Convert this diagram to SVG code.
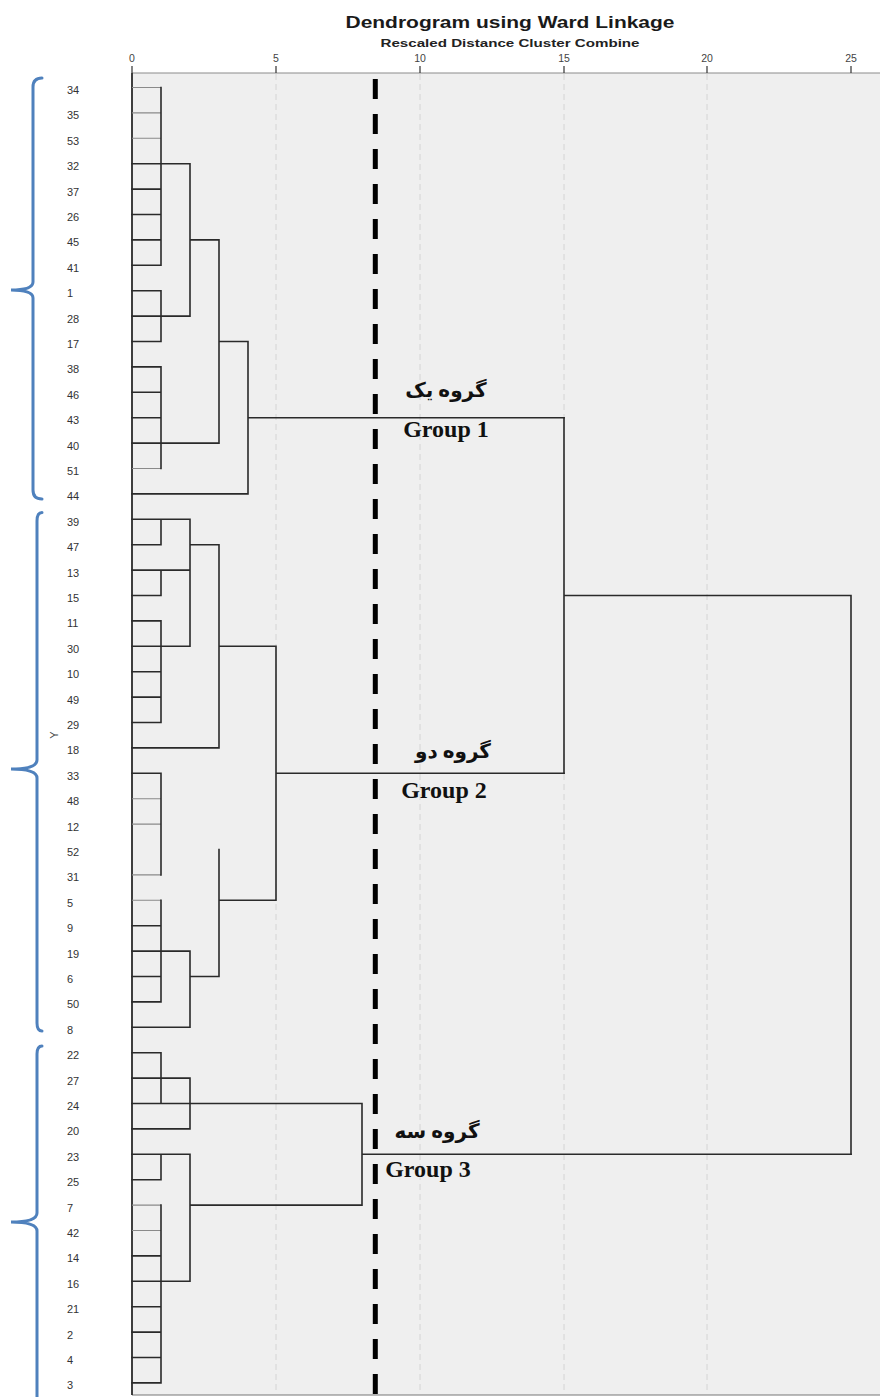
<svg xmlns="http://www.w3.org/2000/svg" width="880" height="1397" viewBox="0 0 880 1397">
<style>
.lbl{font-family:"Liberation Sans",Arial,sans-serif;font-size:11px;fill:#333}
.tick{font-family:"Liberation Sans",Arial,sans-serif;font-size:10.5px;fill:#444;text-anchor:middle}
.ln{stroke:#2a2a2a;stroke-width:1.6;fill:none;stroke-linecap:square}
.lt{stroke:#8a8a8a;stroke-width:1.1;fill:none}
.grid{stroke:#d4d4d4;stroke-width:1;stroke-dasharray:6 4}
.brace{stroke:#4f81bd;stroke-width:3;fill:none;stroke-linecap:round}
.gen{font-family:"Liberation Serif","Times New Roman",serif;font-weight:bold;font-size:24px;fill:#111;text-anchor:middle}
.gfa{font-family:"Liberation Serif","DejaVu Sans",serif;font-weight:bold;font-size:20px;fill:#111;text-anchor:middle}
</style>
<rect x="0" y="0" width="880" height="1397" fill="#ffffff"/>
<g id="plot-area">
<rect x="132" y="73" width="748" height="1322" fill="#efefef"/>
<line x1="132" y1="73" x2="880" y2="73" stroke="#8c8c8c" stroke-width="1.2"/>
<line x1="132" y1="1395" x2="880" y2="1395" stroke="#777" stroke-width="1.2"/>
<line class="grid" x1="276" y1="74" x2="276" y2="1394"/>
<line class="grid" x1="420" y1="74" x2="420" y2="1394"/>
<line class="grid" x1="564" y1="74" x2="564" y2="1394"/>
<line class="grid" x1="707" y1="74" x2="707" y2="1394"/>
</g>
<g id="title">
<text x="510" y="28" font-family="Liberation Sans,Arial,sans-serif" font-weight="bold" font-size="17" fill="#1a1a1a" text-anchor="middle" textLength="329" lengthAdjust="spacingAndGlyphs">Dendrogram using Ward Linkage</text>
<text x="510" y="47" font-family="Liberation Sans,Arial,sans-serif" font-weight="bold" font-size="10.5" fill="#222" text-anchor="middle" textLength="259" lengthAdjust="spacingAndGlyphs">Rescaled Distance Cluster Combine</text>
</g>
<g id="axis">
<text class="tick" x="132" y="62">0</text>
<text class="tick" x="276" y="62">5</text>
<text class="tick" x="420" y="62">10</text>
<text class="tick" x="564" y="62">15</text>
<text class="tick" x="707" y="62">20</text>
<text class="tick" x="851" y="62">25</text>
<path d="M132,66V73M276,66V73M420,66V73M564,66V73M707,66V73M851,66V73" stroke="#333" stroke-width="1.2"/>
<text x="58" y="735" font-family="Liberation Sans,Arial,sans-serif" font-size="11" fill="#444" text-anchor="middle" transform="rotate(-90 58 735)">Y</text>
</g>
<g id="leaf-labels" class="lbl">
<text x="67" y="94">34</text><text x="67" y="119.4">35</text><text x="67" y="144.8">53</text><text x="67" y="170.2">32</text>
<text x="67" y="195.6">37</text><text x="67" y="221">26</text><text x="67" y="246.4">45</text><text x="67" y="271.8">41</text>
<text x="67" y="297.2">1</text><text x="67" y="322.6">28</text><text x="67" y="348">17</text><text x="67" y="373.4">38</text>
<text x="67" y="398.8">46</text><text x="67" y="424.2">43</text><text x="67" y="449.6">40</text><text x="67" y="475">51</text>
<text x="67" y="500.4">44</text><text x="67" y="525.8">39</text><text x="67" y="551.2">47</text><text x="67" y="576.6">13</text>
<text x="67" y="602">15</text><text x="67" y="627.4">11</text><text x="67" y="652.8">30</text><text x="67" y="678.2">10</text>
<text x="67" y="703.6">49</text><text x="67" y="729">29</text><text x="67" y="754.4">18</text><text x="67" y="779.8">33</text>
<text x="67" y="805.2">48</text><text x="67" y="830.6">12</text><text x="67" y="856">52</text><text x="67" y="881.4">31</text>
<text x="67" y="906.8">5</text><text x="67" y="932.2">9</text><text x="67" y="957.6">19</text><text x="67" y="983">6</text>
<text x="67" y="1008.4">50</text><text x="67" y="1033.8">8</text><text x="67" y="1059.2">22</text><text x="67" y="1084.6">27</text>
<text x="67" y="1110">24</text><text x="67" y="1135.4">20</text><text x="67" y="1160.8">23</text><text x="67" y="1186.2">25</text>
<text x="67" y="1211.6">7</text><text x="67" y="1237">42</text><text x="67" y="1262.4">14</text><text x="67" y="1287.8">16</text>
<text x="67" y="1313.2">21</text><text x="67" y="1338.6">2</text><text x="67" y="1364">4</text><text x="67" y="1389.4">3</text>
</g>
<g id="connectors">
<line x1="132" y1="73" x2="132" y2="1395" stroke="#2a2a2a" stroke-width="1.8"/>
<!-- light leaf lines -->
<path class="lt" d="M132,87.5H161M132,112.9H161M132,138.3H161M132,468.5H161M132,798.7H161M132,824.1H161M132,874.9H161M132,900.3H161M132,1230.5H161M132,1205.1H161"/>
<!-- group 1 -->
<path class="ln" d="M132,189.1H161M132,214.5H161M132,239.9H161M132,265.3H161M132,290.7H161M132,341.5H161M132,366.9H161M132,392.3H161M132,417.7H161
M161,87.5V265.3M161,290.7V341.5M161,366.9V468.5
M132,163.7H190M132,316.1H190M190,163.7V316.1
M190,239.9H219M132,443.1H219M219,239.9V443.1
M219,341.5H248M132,493.9H248M248,341.5V493.9
M248,417.7H564"/>
<!-- group 2 -->
<path class="ln" d="M132,544.7H161M132,595.5H161M132,620.9H161M132,671.7H161M132,697.1H161M132,722.5H161M132,773.3H161M132,925.7H161M132,976.5H161M132,1001.9H161
M161,519.3V544.7M161,570.1V595.5M161,620.9V722.5M161,773.3V874.9M161,900.3V1001.9
M132,519.3H190M132,570.1H190M132,646.3H190M190,519.3V646.3
M190,544.7H219M132,747.9H219M219,544.7V747.9
M219,646.3H276M276,646.3V900.3M219,900.3H276
M276,773.3H564
M219,849.5V976.5M190,976.5H219
M132,951.1H190M132,1027.3H190M190,951.1V1027.3"/>
<!-- top merges -->
<path class="ln" d="M564,417.7V773.3M564,595.5H851M851,595.5V1154.3"/>
<!-- group 3 -->
<path class="ln" d="M132,1052.7H161M132,1179.7H161M132,1255.9H161M132,1306.7H161M132,1332.1H161M132,1357.5H161M132,1382.9H161
M161,1052.7V1103.5M161,1154.3V1179.7M161,1205.1V1382.9
M132,1078.1H190M132,1128.9H190M190,1078.1V1128.9
M132,1103.5H190M190,1103.5H362
M132,1154.3H190M132,1281.3H190M190,1154.3V1281.3
M190,1205.1H362M362,1103.5V1205.1M362,1154.3H851"/>
</g>
<g id="cut-line">
<line x1="375.3" y1="79" x2="375.3" y2="1397" stroke="#000" stroke-width="5" stroke-dasharray="20 15"/>
</g>
<g id="braces">
<path class="brace" d="M42,78 Q33,78 33,87 L33,282 Q33,290 11,290 Q33,290 33,298 L33,490 Q33,499 42,499"/>
<path class="brace" d="M42,512.5 Q37,512.5 37,521 L37,760 Q37,769 11,769 Q37,769 37,778 L37,1023 Q37,1031 42,1031"/>
<path class="brace" d="M42,1046 Q37,1046 37,1054 L37,1213 Q37,1222 11,1222 Q37,1222 37,1231 L37,1397"/>
</g>
<g id="group1-label">
<text class="gfa" x="446" y="397">گروه یک</text>
<text class="gen" x="446" y="437">Group 1</text>
</g>
<g id="group2-label">
<text class="gfa" x="453" y="758">گروه دو</text>
<text class="gen" x="444" y="798">Group 2</text>
</g>
<g id="group3-label">
<text class="gfa" x="437" y="1138">گروه سه</text>
<text class="gen" x="428" y="1177">Group 3</text>
</g>
</svg>
